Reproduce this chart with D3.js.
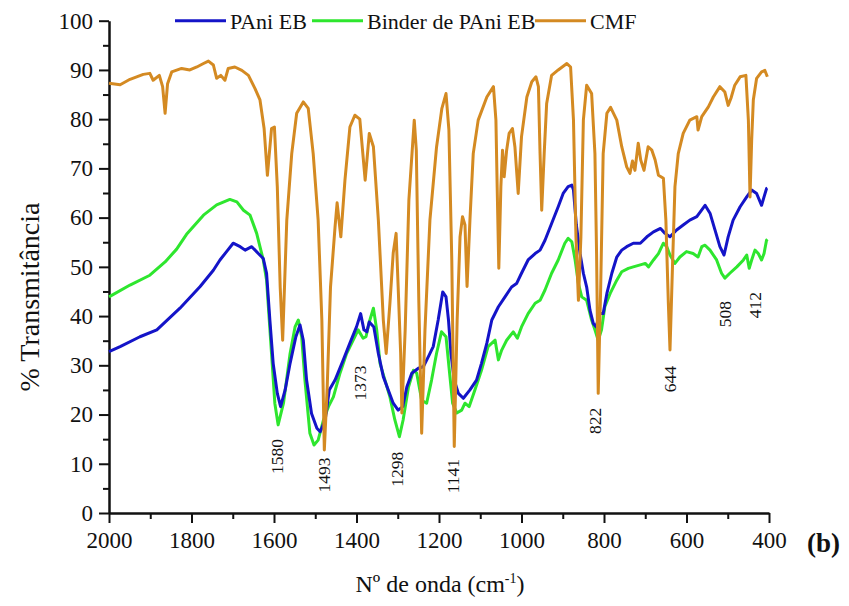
<!DOCTYPE html>
<html>
<head>
<meta charset="utf-8">
<script src="https://cdn.jsdelivr.net/npm/d3@7"></script>
<style>
  body { margin: 0; background: #fff; }
  svg text { font-family: "Liberation Serif", "Times New Roman", serif; fill: #111; }
</style>
</head>
<body>
<svg id="chart" width="849" height="606"></svg>
<script>
// FTIR spectra: wavenumber (cm-1) and % transmittance
const cmfWn = [2000,1973,1949,1917,1901,1893,1878,1870,1864,1858,1848,1824,1804,1787,1771,1759,1747,1739,1729,1719,1711,1695,1678,1662,1646,1634,1624,1616,1606,1599,1592,1585,1579,1569,1557,1545,1529,1517,1505,1493,1484,1478,1471,1463,1452,1447,1438,1428,1416,1404,1392,1379,1369,1359,1347,1335,1328,1319,1311,1304,1299,1293,1290,1282,1273,1260,1255,1249,1242,1234,1222,1206,1193,1183,1176,1169,1163,1156,1149,1143,1137,1132,1125,1117,1105,1084,1068,1062,1059,1055,1050,1046,1042,1036,1030,1022,1016,1008,1000,987,975,965,959,955,951,945,939,927,911,890,881,874,868,862,856,850,842,830,822,818,814,808,802,793,784,769,757,745,737,731,725,717,711,703,693,684,676,668,656,650,644,640,634,628,620,608,592,575,572,563,547,535,519,507,499,492,483,470,456,450,446,442,438,430,418,410,404];
const cmfT  = [87.3,87.0,88.1,89.1,89.3,87.9,88.9,86.6,81.2,87.2,89.6,90.3,90.0,90.6,91.3,91.8,91.0,88.3,88.9,87.9,90.3,90.6,89.9,88.9,86.2,83.9,78.1,68.6,78.1,78.4,66.3,45.9,35.1,59.5,73.0,81.2,83.5,82.2,73.0,59.5,39.2,12.8,25.6,45.9,58.1,63.0,56.1,67.6,78.4,80.8,80.0,67.6,77.1,74.4,59.5,39.2,32.4,42.6,52.8,56.8,45.9,32.5,20.3,37.2,63.6,79.8,73.7,43.2,16.2,37.2,59.5,74.3,82.2,85.2,77.8,51.4,13.5,39.2,56.1,60.2,58.5,46.0,59.5,73.0,79.8,84.5,86.6,79.8,66.3,49.7,66.3,73.7,68.3,73.7,77.1,78.1,74.4,64.9,76.4,84.5,87.6,88.6,86.6,73.0,61.5,73.0,83.2,88.9,90.0,91.3,90.6,79.8,56.1,43.2,56.1,79.8,86.9,85.2,73.0,52.7,24.3,45.9,73.0,81.2,82.4,79.8,74.4,70.3,69.0,71.5,69.6,75.1,71.7,69.6,74.4,73.7,71.7,68.6,68.0,59.5,42.6,33.1,50.0,66.3,73.0,77.1,79.8,80.5,77.8,80.5,82.5,84.5,86.6,85.5,82.8,84.3,86.9,88.6,88.9,79.8,64.2,75.7,83.9,88.3,89.6,89.9,88.6];

const paniWn = [2000,1973,1925,1884,1828,1779,1747,1731,1715,1699,1682,1670,1654,1638,1626,1618,1610,1602,1592,1584,1573,1561,1547,1537,1529,1521,1509,1496,1488,1476,1466,1452,1432,1416,1400,1390,1382,1375,1369,1358,1347,1335,1323,1311,1299,1288,1278,1266,1250,1238,1226,1214,1202,1191,1183,1177,1171,1163,1153,1141,1125,1109,1097,1084,1072,1056,1040,1024,1012,1000,984,967,955,943,927,911,899,887,878,874,867,858,850,842,834,826,819,811,802,793,781,769,757,745,729,712,696,680,663,652,640,624,608,592,575,555,543,531,519,509,499,487,470,454,442,430,418,412,406,404];
const paniT  = [32.8,33.8,35.8,37.2,41.6,46.0,49.3,51.4,53.1,54.8,54.1,53.4,54.1,52.7,51.7,48.7,39.2,30.4,24.3,21.6,25.0,30.4,35.8,38.2,35.1,27.0,20.2,17.2,16.5,18.9,25.0,27.0,31.1,34.5,37.8,40.5,37.2,36.8,38.8,37.8,32.4,27.7,25.0,22.3,20.9,21.6,25.6,28.4,29.4,29.7,31.7,33.8,39.2,44.9,43.9,39.2,32.4,27.0,24.3,23.3,25.0,27.0,30.4,34.5,39.2,41.9,43.9,45.9,46.6,48.7,51.4,52.7,53.4,55.4,58.8,62.2,64.9,66.3,66.6,65.6,58.5,52.7,48.7,45.9,41.2,38.5,37.8,40.5,40.5,44.6,48.7,52.0,53.4,54.1,54.8,54.8,56.1,57.1,57.8,56.8,56.1,57.5,58.5,59.5,60.2,62.5,60.9,57.5,54.1,52.4,56.1,59.5,62.2,64.2,65.6,64.9,62.5,64.2,65.9,66.0];

const binderWn = [2000,1949,1901,1864,1836,1812,1771,1739,1707,1690,1674,1658,1642,1626,1618,1606,1598,1590,1577,1561,1549,1541,1533,1525,1513,1503,1493,1480,1468,1456,1440,1424,1408,1396,1384,1377,1369,1359,1351,1343,1331,1319,1307,1296,1287,1274,1262,1254,1242,1230,1218,1206,1194,1183,1175,1167,1157,1145,1137,1127,1113,1097,1081,1064,1056,1048,1036,1020,1010,1000,984,967,955,943,927,911,895,887,878,870,862,854,842,830,822,814,806,798,785,769,757,741,729,712,700,692,680,668,656,648,640,628,616,600,584,572,563,555,543,527,515,507,495,478,462,454,448,442,434,426,418,412,406,404];
const binderT  = [43.9,46.3,48.3,51.0,53.6,56.6,60.5,62.6,63.7,63.2,61.5,60.5,56.8,51.4,47.3,32.4,22.3,17.9,22.3,32.4,37.8,39.2,35.8,27.0,16.2,13.8,14.8,18.9,21.6,23.6,28.4,32.4,35.1,37.2,35.5,35.8,38.8,41.6,37.2,30.4,27.0,23.6,18.9,15.5,18.9,25.6,29.0,28.4,22.9,22.3,27.0,32.4,36.8,35.8,29.0,22.3,20.3,20.9,22.3,21.6,25.0,29.0,33.8,35.1,31.1,33.1,35.1,36.8,35.5,37.8,40.5,42.6,43.2,45.3,48.7,51.4,54.8,55.8,55.1,51.4,46.6,43.9,43.2,39.2,37.2,35.1,37.2,41.9,44.6,47.3,49.0,49.7,50.0,50.4,50.7,50.0,51.4,52.7,54.8,54.1,52.4,50.7,52.0,53.1,52.7,52.0,54.1,54.4,53.4,51.4,48.7,47.7,48.7,50.0,51.4,52.4,49.7,51.4,53.4,52.7,51.4,52.7,55.4,55.6];

const seriesNames  = ["PAni EB", "Binder de PAni EB", "CMF"];
const xTicks       = [2000, 1800, 1600, 1400, 1200, 1000, 800, 600, 400];
const xMinorTicks  = [1900, 1700, 1500, 1300, 1100, 900, 700, 500];
const yTicks       = [0, 10, 20, 30, 40, 50, 60, 70, 80, 90, 100];
const yMinorTicks  = [5, 15, 25, 35, 45, 55, 65, 75, 85, 95];
// band labels and where they sit (wavenumber, % transmittance)
const peakText = ["1580", "1493", "1373", "1298", "1141", "822", "644", "508", "412"];
const peakWn   = [1593, 1479, 1392, 1302, 1166, 822, 640, 507, 434];
const peakT    = [11.5, 7.7, 26.4, 8.9, 7.5, 18.7, 27.2, 40.4, 42.2];

const colors = { pani: "#1414c8", binder: "#2ee62e", cmf: "#d48a22" };

const svg = d3.select("#chart");
const x = d3.scaleLinear().domain([2000, 400]).range([109, 769]);
const y = d3.scaleLinear().domain([0, 100]).range([513, 20.7]);

// axes
svg.append("g").attr("transform", "translate(0,513)")
  .call(d3.axisBottom(x).tickValues(xTicks).tickSize(10).tickSizeOuter(0).tickPadding(9).tickFormat(d3.format("d")));
svg.append("g").attr("transform", "translate(0,513)")
  .call(d3.axisBottom(x).tickValues(xMinorTicks).tickSize(6).tickSizeOuter(0).tickFormat(""))
  .select(".domain").remove();
svg.append("g").attr("transform", "translate(109,0)")
  .call(d3.axisLeft(y).tickValues(yTicks).tickSize(10).tickSizeOuter(0).tickPadding(6));
svg.append("g").attr("transform", "translate(109,0)")
  .call(d3.axisLeft(y).tickValues(yMinorTicks).tickSize(6).tickSizeOuter(0).tickFormat(""))
  .select(".domain").remove();

svg.selectAll(".domain").attr("stroke", "#111").attr("stroke-width", 2.5);
svg.selectAll(".tick line").attr("stroke", "#111").attr("stroke-width", 2);
svg.selectAll(".tick text").style("font-size", "23px").attr("fill", "#111")
  .style("font-family", '"Liberation Serif", serif');

// spectra
const line = d3.line().x(d => x(d[0])).y(d => y(d[1]));
const series = [
  { wn: binderWn, t: binderT, color: colors.binder },
  { wn: paniWn, t: paniT, color: colors.pani },
  { wn: cmfWn, t: cmfT, color: colors.cmf }
];
series.forEach(s => {
  svg.append("path")
    .datum(d3.zip(s.wn, s.t))
    .attr("fill", "none")
    .attr("stroke", s.color)
    .attr("stroke-width", 3)
    .attr("stroke-linejoin", "round")
    .attr("d", line);
});

// band labels
svg.append("g").selectAll("text")
  .data(d3.zip(peakText, peakWn, peakT))
  .join("text")
  .attr("transform", d => `translate(${x(d[1])},${y(d[2])}) rotate(-90)`)
  .attr("text-anchor", "middle")
  .attr("dominant-baseline", "central")
  .style("font-size", "17.5px")
  .text(d => d[0]);

// legend
const legendColors = [colors.pani, colors.binder, colors.cmf];
const legendX = [175, 312, 535];
const lg = svg.append("g");
seriesNames.forEach((name, i) => {
  lg.append("line")
    .attr("x1", legendX[i]).attr("x2", legendX[i] + 51)
    .attr("y1", 20.7).attr("y2", 20.7)
    .attr("stroke", legendColors[i]).attr("stroke-width", 3);
  lg.append("text")
    .attr("x", legendX[i] + 55).attr("y", 29)
    .style("font-size", "22px")
    .text(name);
});

// axis titles
const xt = svg.append("text")
  .attr("x", 440).attr("y", 592)
  .attr("text-anchor", "middle")
  .style("font-size", "24px");
xt.append("tspan").text("Nº de onda (cm");
xt.append("tspan").attr("dy", -9).style("font-size", "14px").text("-1");
xt.append("tspan").attr("dy", 9).text(")");

svg.append("text")
  .attr("transform", "translate(39,297) rotate(-90)")
  .attr("text-anchor", "middle")
  .style("font-size", "28px")
  .text("% Transmitância");

svg.append("text")
  .attr("x", 807).attr("y", 552)
  .style("font-size", "27px")
  .style("font-weight", "bold")
  .text("(b)");
</script>
</body>
</html>
